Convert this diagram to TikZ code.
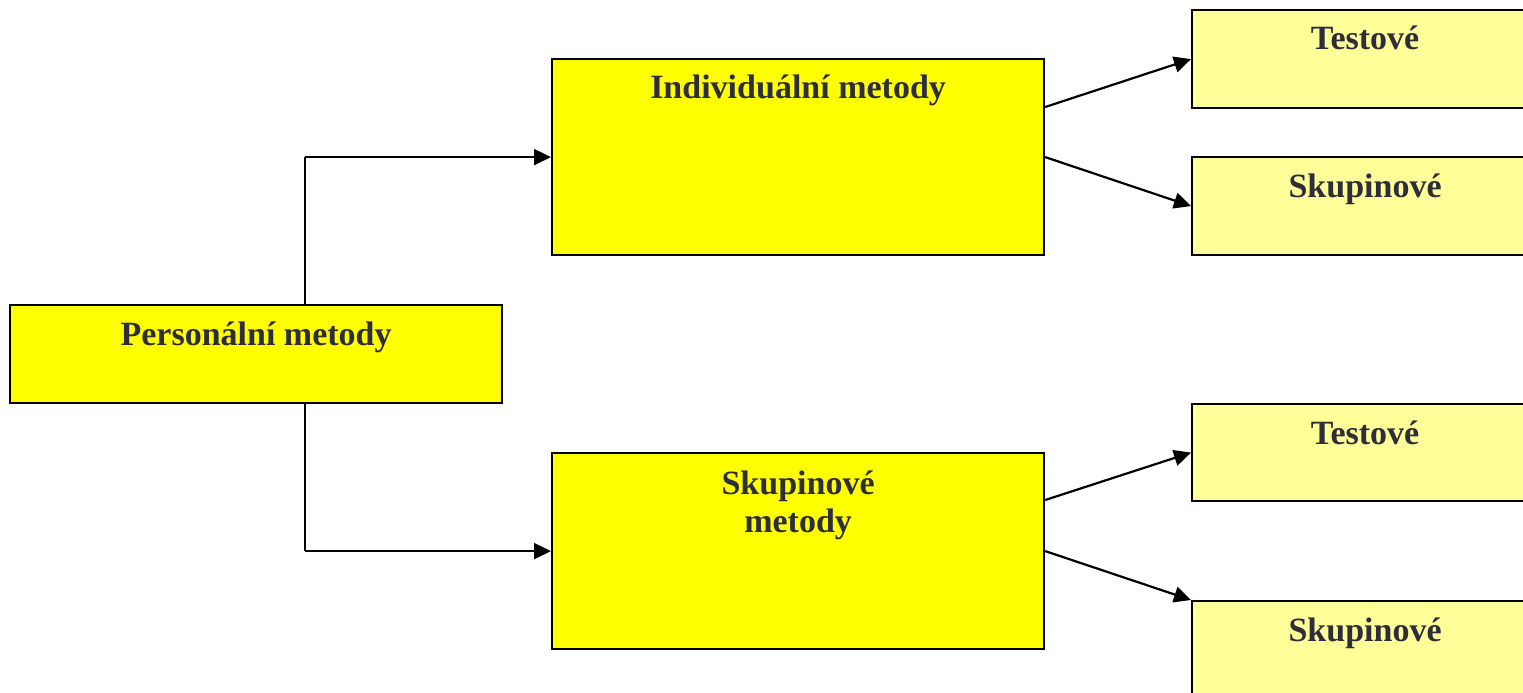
\documentclass[tikz,border=0pt]{standalone}
\usepackage{fontspec}
\setmainfont{Liberation Serif}
\usetikzlibrary{arrows.meta}
\definecolor{brightyel}{HTML}{FFFF00}
\definecolor{paleyel}{HTML}{FFFF99}
\definecolor{txtcol}{HTML}{2E2E3A}
\tikzset{
  mainbox/.style={draw=black, line width=2.2pt, fill=brightyel, inner sep=0pt, anchor=north west},
  subbox/.style={draw=black, line width=2.2pt, fill=paleyel, inner sep=0pt, anchor=north west},
  lbl/.style={font=\fontsize{34}{38}\selectfont\bfseries, text=txtcol, inner sep=0pt, anchor=base, align=center},
  conn/.style={line width=2.2pt, -{Triangle[length=17pt,width=16pt]}},
  plain/.style={line width=2.2pt}
}
\begin{document}
\begin{tikzpicture}[x=1pt,y=-1pt]
\useasboundingbox (0,0) rectangle (1523,693);
\clip (0,0) rectangle (1523,693);
% main boxes
\node[mainbox, minimum width=492pt, minimum height=98pt] (pers) at (9,304) {};
\node[mainbox, minimum width=492pt, minimum height=196pt] (indiv) at (551,58) {};
\node[mainbox, minimum width=492pt, minimum height=196pt] (skup) at (551,452) {};
% sub boxes
\node[subbox, minimum width=346pt, minimum height=98pt] (t1) at (1191,9) {};
\node[subbox, minimum width=346pt, minimum height=98pt] (s1) at (1191,156) {};
\node[subbox, minimum width=346pt, minimum height=97pt] (t2) at (1191,403) {};
\node[subbox, minimum width=346pt, minimum height=120pt] (s2) at (1191,600) {};
% labels
\node[lbl] (lpers) at ([yshift=-41pt]pers.north) {Personální metody};
\node[lbl] (lindiv) at ([yshift=-41pt]indiv.north) {Individuální metody};
\node[lbl, anchor=north] (lskup) at ([yshift=-19pt]skup.north) {Skupinové\\metody};
\node[lbl] (lt1) at ([yshift=-41pt]t1.north) {Testové};
\node[lbl] (ls1) at ([yshift=-41pt]s1.north) {Skupinové};
\node[lbl] (lt2) at ([yshift=-41pt]t2.north) {Testové};
\node[lbl] (ls2) at ([yshift=-41pt]s2.north) {Skupinové};
% connectors
\coordinate (pt) at ([xshift=49pt]pers.north);
\coordinate (pb) at ([xshift=49pt]pers.south);
\coordinate (bu) at (pt |- indiv.west);
\coordinate (bd) at (pb |- skup.west);
\draw[plain] (pt) -- (bu);
\draw[conn] (bu) -- (indiv.west);
\draw[plain] (pb) -- (bd);
\draw[conn] (bd) -- (skup.west);
\draw[conn] ([yshift=-49pt]indiv.north east) -- (t1.west);
\draw[conn] (indiv.east) -- (s1.west);
\draw[conn] ([yshift=-48pt]skup.north east) -- (t2.west);
\draw[conn] (skup.east) -- (s2.north west);
\end{tikzpicture}
\end{document}
